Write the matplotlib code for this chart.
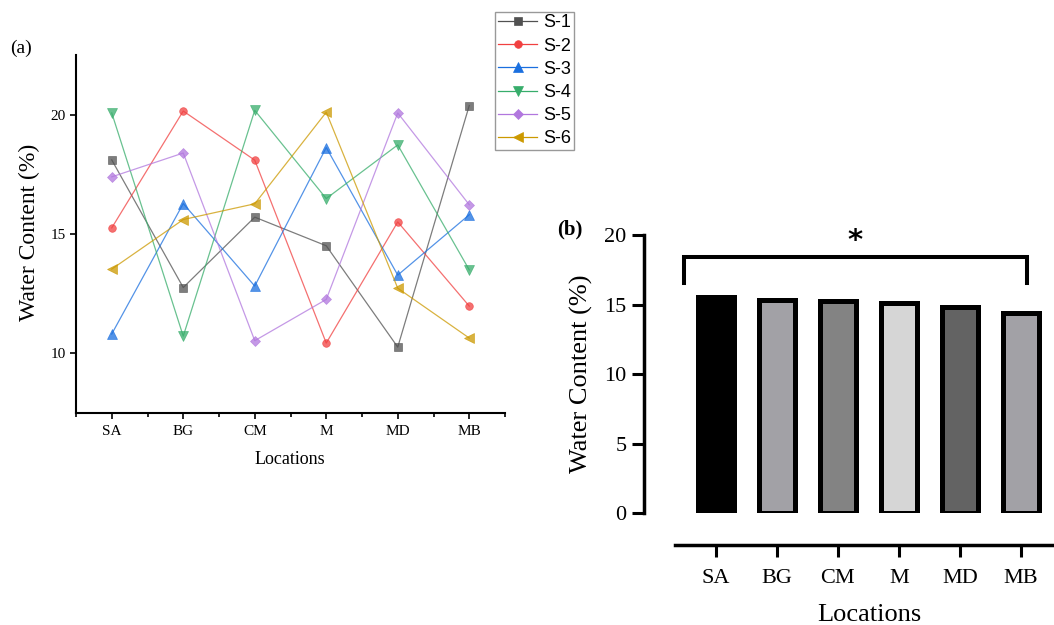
import matplotlib
matplotlib.use("Agg")
import matplotlib.pyplot as plt
import numpy as np

plt.rcParams['font.family'] = ['Liberation Serif', 'DejaVu Serif']

locations = ["SA", "BG", "CM", "M", "MD", "MB"]
series_names = ["S-1", "S-2", "S-3", "S-4", "S-5", "S-6"]
s1 = [18.10, 12.75, 15.70, 14.50, 10.25, 20.38]
s2 = [15.25, 20.15, 18.09, 10.42, 15.50, 11.97]
s3 = [10.80, 16.27, 12.81, 18.62, 13.27, 15.80]
s4 = [20.07, 10.71, 20.18, 16.48, 18.73, 13.49]
s5 = [17.39, 18.39, 10.52, 12.25, 20.07, 16.22]
s6 = [13.52, 15.60, 16.26, 20.10, 12.72, 10.63]
bar_values = [15.56, 15.34, 15.29, 15.10, 14.81, 14.43]

series = [s1, s2, s3, s4, s5, s6]
colors = ["#515151", "#F14040", "#1A6FDF", "#37AD6B", "#B177DE", "#CC9900"]
markers = ["s", "o", "^", "v", "D", "<"]
msizes = [5.2, 5.5, 6.8, 6.8, 5.2, 6.8]
bar_colors = ["#000000", "#a2a1a6", "#838383", "#d6d6d6", "#636363", "#a2a1a6"]

W, H = 1054, 625
fig = plt.figure(figsize=(W / 100, H / 100), dpi=100)

# ---------------- panel (a) ----------------
axa = fig.add_axes([76 / W, 1 - 412.7 / H, 429 / W, 357.7 / H])
x = np.arange(len(locations))
for vals, c, m, ms, name in zip(series, colors, markers, msizes, series_names):
    axa.plot(x, vals, color=c, lw=0.9, alpha=0.75, marker=m, markersize=ms,
             markerfacecolor=c, markeredgecolor=c, markeredgewidth=0.5, label=name)
axa.set_xlim(-0.5, 5.5)
axa.set_ylim(7.5, 22.5)
for s in ['top', 'right']:
    axa.spines[s].set_visible(False)
for s in ['left', 'bottom']:
    axa.spines[s].set_linewidth(1.5)
axa.set_xticks(x)
axa.set_xticklabels(locations, fontsize=11)
axa.set_xticks(np.arange(-0.5, 6.0, 1.0), minor=True)
axa.set_yticks([10, 15, 20])
axa.set_yticklabels(["10", "15", "20"], fontsize=11)
axa.tick_params(axis='both', which='major', direction='out', length=4, width=1.2)
axa.tick_params(axis='x', which='major', pad=5)
axa.tick_params(axis='x', which='minor', direction='out', length=3, width=1.2)
axa.set_ylabel("Water Content (%)", fontsize=17)
axa.yaxis.set_label_coords(-0.084, 0.505)
axa.set_xlabel("Locations", fontsize=13)
axa.xaxis.set_label_coords(0.499, -0.108)
fig.text(10 / W, 1 - 48 / H, "(a)", fontsize=14, va='center', ha='left')

leg = axa.legend(loc='upper left', bbox_to_anchor=(495 / W, 1 - 11.7 / H),
                 bbox_transform=fig.transFigure, borderaxespad=0, borderpad=0.15,
                 handlelength=2.2, handletextpad=0.3, labelspacing=0.34,
                 prop={'family': 'Liberation Sans', 'size': 13},
                 frameon=True, fancybox=False, edgecolor='#808080')
leg.get_frame().set_linewidth(1.0)
for lh in leg.get_lines():
    lh.set_alpha(1.0)

# ---------------- panel (b) ----------------
axb = fig.add_axes([675 / W, 1 - 513.3 / H, 379 / W, 278.3 / H])
for s in ['top', 'right']:
    axb.spines[s].set_visible(False)
axb.spines['left'].set_position(('outward', 22.3))
axb.spines['bottom'].set_position(('outward', 22.8))
for s in ['left', 'bottom']:
    axb.spines[s].set_linewidth(2.5)
axb.bar(x, bar_values, width=0.58, color=bar_colors, edgecolor='black', linewidth=3.6)
axb.set_xlim(-0.669, 5.544)
axb.set_ylim(0, 20)
axb.spines['left'].set_bounds(0, 20)
axb.set_yticks([0, 5, 10, 15, 20])
axb.set_yticklabels(["0", "5", "10", "15", "20"], fontsize=16)
axb.set_xticks(x)
axb.set_xticklabels(locations, fontsize=16)
axb.tick_params(axis='both', direction='out', length=8.6, width=2.2, pad=4, labelsize=16)
axb.tick_params(axis='x', pad=8.5)
axb.set_ylabel("Water Content (%)", fontsize=19)
axb.yaxis.set_label_coords(-0.216, 0.502)
axb.set_xlabel("Locations", fontsize=19)
axb.xaxis.set_label_coords(0.512, -0.325)

# significance bracket
bx0, bx1, by_top, by_leg = -0.521, 5.097, 18.44, 16.53
axb.plot([bx0, bx0, bx1, bx1], [by_leg, by_top, by_top, by_leg], color='black',
         lw=2.9, solid_joinstyle='miter', clip_on=False)
axb.text(2.28, 19.6, "*", fontsize=21, fontweight='bold', ha='center', va='center',
         family='DejaVu Sans')
fig.text(557 / W, 1 - 229 / H, "(b)", fontsize=15, fontweight='bold', va='center', ha='left')

fig.savefig("out.png", dpi=100)
